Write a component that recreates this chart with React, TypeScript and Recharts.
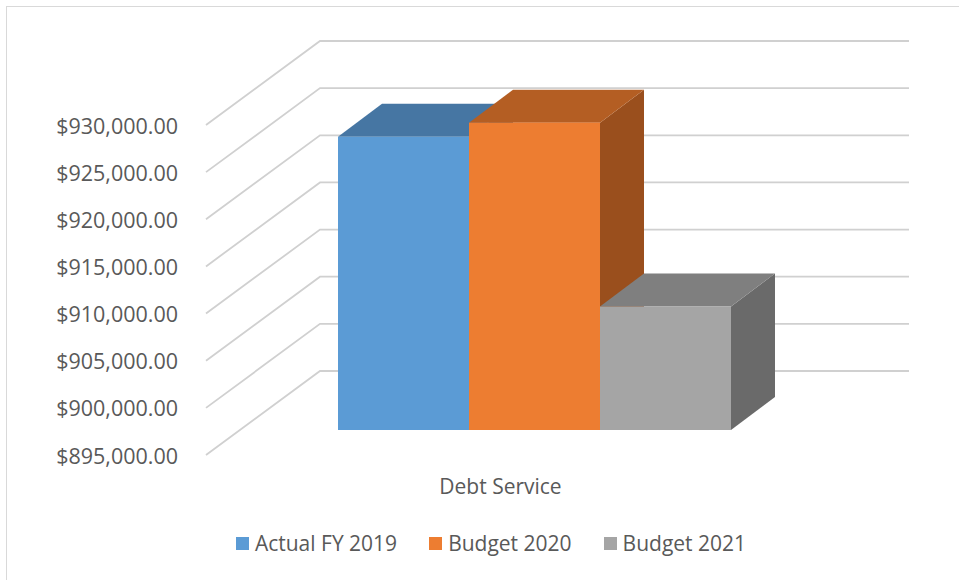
import React from 'react'
import { BarChart, Bar, XAxis, YAxis, CartesianGrid, Legend } from 'recharts'

const categories = ['Debt Service']
const actualFY2019 = [926100]
const budget2020 = [927600]
const budget2021 = [908100]
const yTicks = [895000, 900000, 905000, 910000, 915000, 920000, 925000, 930000]

const seriesInfo = [
  { key: 'actual', name: 'Actual FY 2019', front: '#5B9BD5', top: '#4676A3', side: '#3E6890' },
  { key: 'b2020', name: 'Budget 2020', front: '#ED7D31', top: '#B45E23', side: '#9A4F1D' },
  { key: 'b2021', name: 'Budget 2021', front: '#A5A5A5', top: '#7F7F7F', side: '#6A6A6A' },
]

const data = categories.map((name, i) => ({
  name,
  actual: actualFY2019[i],
  b2020: budget2020[i],
  b2021: budget2021[i],
}))

// oblique 3d offsets
const BAR_DX = 44
const BAR_DY = 33
const BACK_DX = 80
const BACK_DY = 59
const FRONT_DX = -34
const FRONT_DY = 25

const TEXT = '#595959'
const GRID = '#D0D0D0'
const FONT = '"Open Sans", sans-serif'

const fmt = (v: number) =>
  '$' + v.toLocaleString('en-US', { minimumFractionDigits: 2, maximumFractionDigits: 2 })

function Box3D(props: any) {
  const { x, y, width, height, front, top, side } = props
  const r = x + width
  const b = y + height
  return (
    <g>
      <polygon
        points={`${r},${y} ${r + BAR_DX},${y - BAR_DY} ${r + BAR_DX},${b - BAR_DY} ${r},${b}`}
        fill={side}
      />
      <polygon
        points={`${x},${y} ${x + BAR_DX},${y - BAR_DY} ${r + BAR_DX},${y - BAR_DY} ${r},${y}`}
        fill={top}
      />
      <rect x={x} y={y} width={width} height={height} fill={front} />
    </g>
  )
}

function WallLine(props: any) {
  const { x1, y1, x2 } = props
  const by = y1 - BACK_DY
  return (
    <g key={props.key}>
      <polyline
        points={`${x1 + FRONT_DX},${y1 + FRONT_DY} ${x1 + BACK_DX},${by} ${x2 + BACK_DX},${by}`}
        fill="none"
        stroke={GRID}
        strokeWidth={1.8}
      />
    </g>
  )
}

function YTick(props: any) {
  const { x, y, payload } = props
  return (
    <text
      x={x - 62}
      y={y + FRONT_DY}
      textAnchor="end"
      dominantBaseline="central"
      fill={TEXT}
      fontSize={21.5}
      fontFamily={FONT}
    >
      {fmt(payload.value)}
    </text>
  )
}

function XTick(props: any) {
  const { x, y, payload } = props
  return (
    <text
      x={x - 34}
      y={y + 56}
      textAnchor="middle"
      dominantBaseline="central"
      fill={TEXT}
      fontSize={21}
      fontFamily={FONT}
    >
      {payload.value}
    </text>
  )
}

function LegendBox() {
  return (
    <div
      style={{
        display: 'flex',
        justifyContent: 'center',
        alignItems: 'center',
        height: 30,
        paddingLeft: 23,
        fontFamily: FONT,
        fontSize: 21,
        color: TEXT,
        gap: 32,
      }}
    >
      {seriesInfo.map((s) => (
        <div key={s.key} style={{ display: 'flex', alignItems: 'center', gap: 6 }}>
          <span style={{ width: 13, height: 13, background: s.front, display: 'inline-block' }} />
          <span>{s.name}</span>
        </div>
      ))}
    </div>
  )
}

export default function App() {
  return (
    <div
      style={{
        position: 'absolute',
        left: 0,
        top: 0,
        width: 959,
        height: 580,
        overflow: 'hidden',
        background: '#fff',
      }}
    >
      <div
        style={{
          position: 'absolute',
          left: 6,
          top: 6,
          width: 1000,
          height: 1000,
          border: '1px solid #D9D9D9',
        }}
      />
      <BarChart
        width={959}
        height={580}
        data={data}
        margin={{ top: 100, right: 130, bottom: 22, left: 0 }}
        barCategoryGap={98}
        barGap={0}
        style={{ position: 'absolute', left: 0, top: 0 }}
      >
        <CartesianGrid vertical={false} horizontal={(p: any) => <WallLine {...p} />} />
        <XAxis
          dataKey="name"
          axisLine={false}
          tickLine={false}
          tickSize={0}
          tickMargin={0}
          height={98}
          tick={<XTick />}
        />
        <YAxis
          type="number"
          domain={[895000, 930000]}
          ticks={yTicks}
          axisLine={false}
          tickLine={false}
          tickSize={0}
          tickMargin={0}
          width={240}
          tick={<YTick />}
        />
        <Legend
          verticalAlign="bottom"
          height={30}
          content={<LegendBox />}
          wrapperStyle={{ left: 0, width: 959 }}
        />
        {seriesInfo.map((s) => (
          <Bar
            key={s.key}
            dataKey={s.key}
            name={s.name}
            fill={s.front}
            isAnimationActive={false}
            shape={(p: any) => <Box3D {...p} front={s.front} top={s.top} side={s.side} />}
          />
        ))}
      </BarChart>
    </div>
  )
}
